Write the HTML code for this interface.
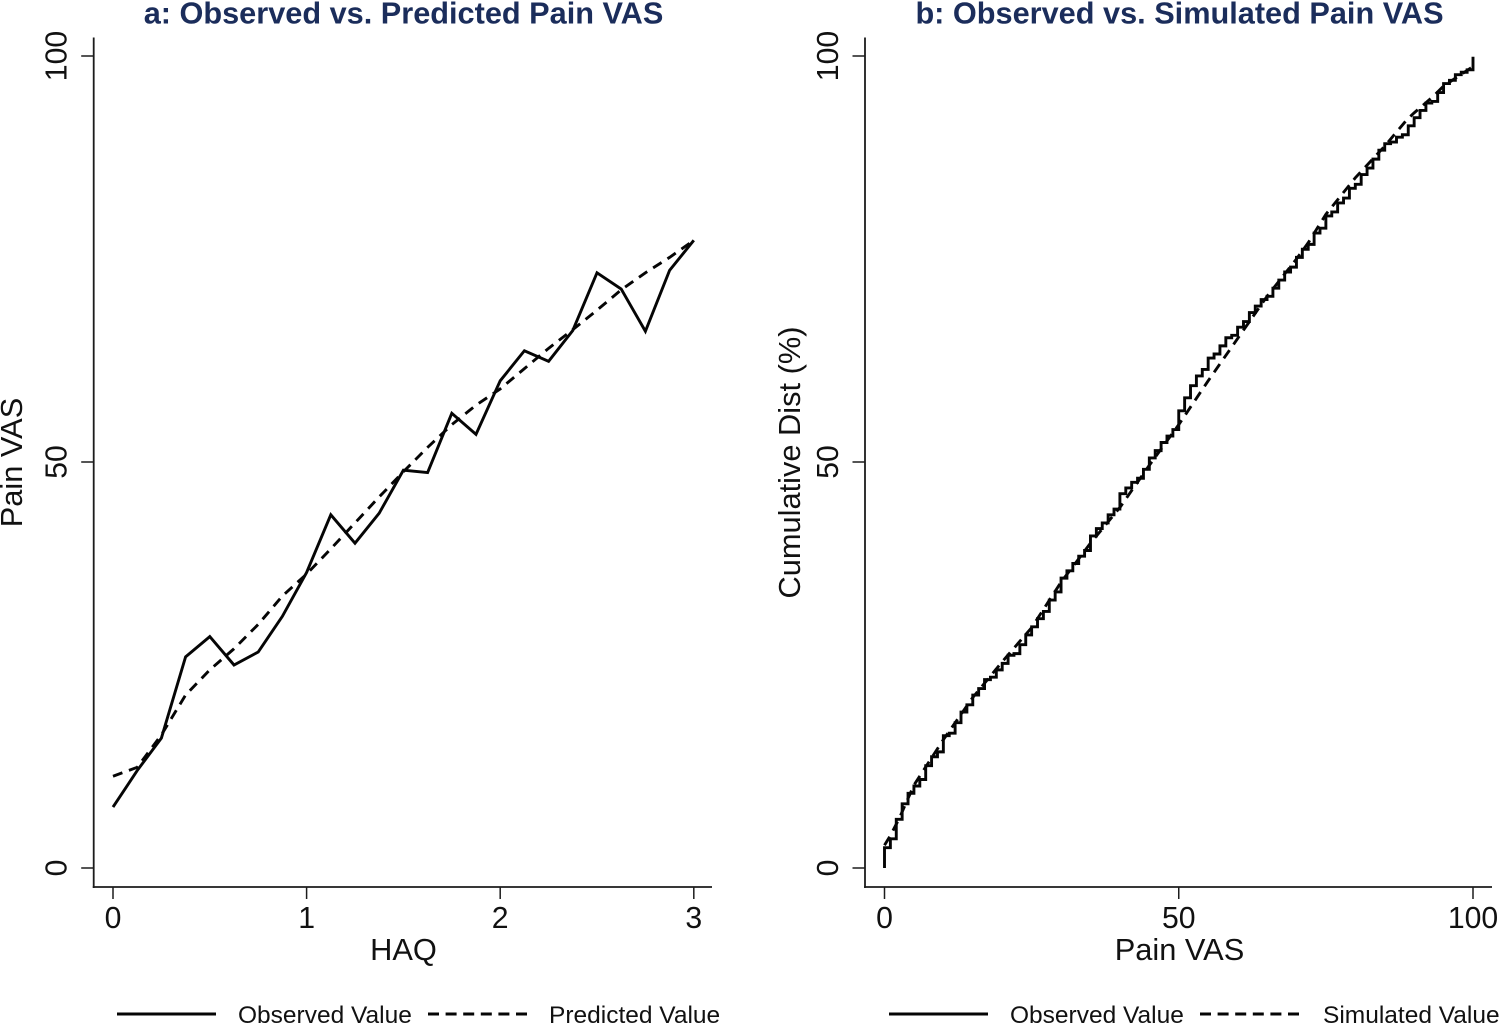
<!DOCTYPE html>
<html lang="en">
<head>
<meta charset="utf-8">
<title>Observed vs. Predicted and Simulated Pain VAS</title>
<style>
html,body{margin:0;padding:0;background:#fff;width:1500px;height:1025px;overflow:hidden}
svg{display:block}
text{font-family:"Liberation Sans",Arial,sans-serif;fill:#111}
.ttl{font-weight:bold;font-size:30.7px;fill:#1b2d5b;text-anchor:middle}
.tick{font-size:30.2px;text-anchor:middle}
.axt{font-size:30.8px;text-anchor:middle}
.leg{font-size:24.5px}
</style>
</head>
<body>
<svg id="chart" xmlns="http://www.w3.org/2000/svg" width="1500" height="1025" viewBox="0 0 1500 1025"></svg>
<script>
// Panel a data
const haqValues = [0,0.125,0.25,0.375,0.5,0.625,0.75,0.875,1,1.125,1.25,1.375,1.5,1.625,1.75,1.875,2,2.125,2.25,2.375,2.5,2.625,2.75,2.875,3];
const observedPain = [7.5,12,16,26,28.5,25,26.6,31,36.4,43.5,40,43.7,49,48.7,56,53.4,60,63.7,62.4,66.2,73.3,71.3,66.1,73.6,77.3];
const predictedPain = [11.3,12.4,16.4,21.3,24.4,27,30,33.5,36.2,39.3,42.5,45.7,48.8,51.8,54.6,57,59,61.5,64,66.3,68.7,71.2,73.3,75.2,77.3];
// Panel b data
const painLevels = [0,0,1,2,3,4,5,6,7,8,9,10,11,12,13,14,15,16,17,18,19,20,21,22,23,24,25,26,27,28,29,30,31,32,33,34,35,36,37,38,39,40,41,42,43,44,45,46,47,48,49,50,51,52,53,54,55,56,57,58,59,60,61,62,63,64,65,66,67,68,69,70,71,72,73,74,75,76,77,78,79,80,81,82,83,84,85,86,87,88,89,90,91,92,93,94,95,96,97,98,99,100,100];
const observedCum = [0,2.5,3.6,6,7.9,9.2,10.1,10.9,12.6,13.7,14.3,16.3,16.6,17.9,19.2,20.1,21.3,22.1,23.2,23.5,24.4,25.2,26.2,26.4,27.5,28.7,29.7,30.7,31.6,33,34,35.7,36.6,37.5,38.4,39.1,40.9,41.8,42.5,43.5,44.2,46.1,46.8,47.5,48,49.1,50.5,51.4,52.4,53.2,54,56.3,57.9,59.4,60.6,61.4,62.8,63.3,64.3,65.3,65.6,66.6,67.3,68.4,69.2,70,70.4,71.4,72.4,73.4,74,75.2,76.2,76.8,78.2,78.8,80.3,80.8,81.9,82.5,83.7,84.2,85.4,86.2,87.3,88.4,89.2,89.4,90,90.3,91.4,92.4,93.3,94.2,94.4,95.5,96.6,97,97.7,98,98.3,98.5,99.9];
const simLevels = [0,1,2.5,5,10,15,20,25,30,35,40,45,50,55,60,65,70,72,75,80,85,88.7,90,93.2,95,100];
const simulatedCum = [2.8,4,6.1,10.2,15.8,21,25.4,29.6,35.2,40,44.4,49.6,54.6,60,65.2,70.4,75,77,80.5,85,88.9,92.1,93,95,96.3,98.7];
// Tick labels
const panelAXTicks = [0,1,2,3];
const panelBXTicks = [0,50,100];
const yTicks = [0,50,100];

const NS = 'http://www.w3.org/2000/svg';
const svg = document.getElementById('chart');

function yScale(p){ return 868 - 8.12 * p; }
function xScaleA(h){ return 113 + 193.6 * h; }
function xScaleB(v){ return 884.5 + 5.885 * v; }

function make(tag, attrs, parent){
  const el = document.createElementNS(NS, tag);
  for (const k in attrs) el.setAttribute(k, attrs[k]);
  parent.appendChild(el);
  return el;
}
function linePath(xs, ys, fx){
  return xs.map(function(x, i){ return (i ? 'L' : 'M') + fx(x).toFixed(2) + ' ' + yScale(ys[i]).toFixed(2); }).join(' ');
}
function stepPath(xs, ys, fx){
  let d = 'M' + fx(xs[0]).toFixed(2) + ' ' + yScale(ys[0]).toFixed(2);
  for (let i = 1; i < xs.length; i++) {
    d += ' L' + fx(xs[i]).toFixed(2) + ' ' + yScale(ys[i-1]).toFixed(2);
    d += ' L' + fx(xs[i]).toFixed(2) + ' ' + yScale(ys[i]).toFixed(2);
  }
  return d;
}
const AXIS = '#1c1c1c';
const SERIES = {stroke:'#050505', 'stroke-width':2.9, fill:'none', 'stroke-linejoin':'miter'};

function drawPanel(cfg){
  const g = make('g', {}, svg);
  
  

  const title = make('text', {x:cfg.cx, y:23.5, class:'ttl'}, g);
  title.textContent = cfg.title;
  
  

  const ySpine = make('line', {x1:cfg.left, x2:cfg.left, y1:37.5, y2:888, stroke:AXIS, 'stroke-width':1.8}, g);
  
  
  const xSpine = make('line', {x1:cfg.left - 0.9, x2:cfg.right, y1:887, y2:887, stroke:AXIS, 'stroke-width':1.8}, g);
  
  

  yTicks.forEach(function(t){
    const py = yScale(t);
    const tk = make('line', {x1:cfg.left - 12.5, x2:cfg.left, y1:py, y2:py, stroke:AXIS, 'stroke-width':1.5}, g);
    
    
    const lb = make('text', {class:'tick', transform:'translate(' + (cfg.left - 27) + ' ' + py + ') rotate(-90)'}, g);
    lb.textContent = t;
    
    
  });
  cfg.xTicks.forEach(function(t){
    const px = cfg.fx(t);
    const tk = make('line', {x1:px, x2:px, y1:887, y2:899, stroke:AXIS, 'stroke-width':1.5}, g);
    
    
    const lb = make('text', {class:'tick', x:px, y:928}, g);
    lb.textContent = t;
    
    
  });

  const xt = make('text', {class:'axt', x:cfg.cx, y:960}, g);
  xt.textContent = cfg.xLabel;
  
  
  const yt = make('text', {class:'axt', transform:'translate(' + cfg.yTitleX + ' 462.5) rotate(-90)'}, g);
  yt.textContent = cfg.yLabel;
  
  

  const dash = make('path', Object.assign({d:cfg.dashPath, 'stroke-dasharray':'10 7'}, SERIES), g);
  
  
  const solid = make('path', Object.assign({d:cfg.solidPath}, SERIES), g);
  
  

  const l1 = make('line', {x1:cfg.leg, x2:cfg.leg + 99, y1:1014, y2:1014, stroke:'#050505', 'stroke-width':2.9}, g);
  
  
  const t1 = make('text', {class:'leg', x:cfg.leg + 121, y:1023}, g);
  t1.textContent = 'Observed Value';
  
  
  const l2 = make('line', {x1:cfg.leg + 311, x2:cfg.leg + 410, y1:1014, y2:1014, stroke:'#050505', 'stroke-width':2.9, 'stroke-dasharray':'11 6.6'}, g);
  
  
  const t2 = make('text', {class:'leg', x:cfg.leg + cfg.leg2Offset, y:1023}, g);
  t2.textContent = cfg.dashLabel;
  
  
}

drawPanel({
  id:'panel-a', title:'a: Observed vs. Predicted Pain VAS', cx:403.5, left:93.7, right:712,
  fx:xScaleA, xTicks:panelAXTicks, xLabel:'HAQ', yLabel:'Pain VAS', yTitleX:22,
  solidPath:linePath(haqValues, observedPain, xScaleA),
  dashPath:linePath(haqValues, predictedPain, xScaleA),
  leg:117, leg2Offset:432, dashLabel:'Predicted Value'
});
drawPanel({
  id:'panel-b', title:'b: Observed vs. Simulated Pain VAS', cx:1179.5, left:865, right:1492,
  fx:xScaleB, xTicks:panelBXTicks, xLabel:'Pain VAS', yLabel:'Cumulative Dist (%)', yTitleX:800,
  solidPath:stepPath(painLevels, observedCum, xScaleB),
  dashPath:linePath(simLevels, simulatedCum, xScaleB),
  leg:889, leg2Offset:434, dashLabel:'Simulated Value'
});
</script>
</body>
</html>
